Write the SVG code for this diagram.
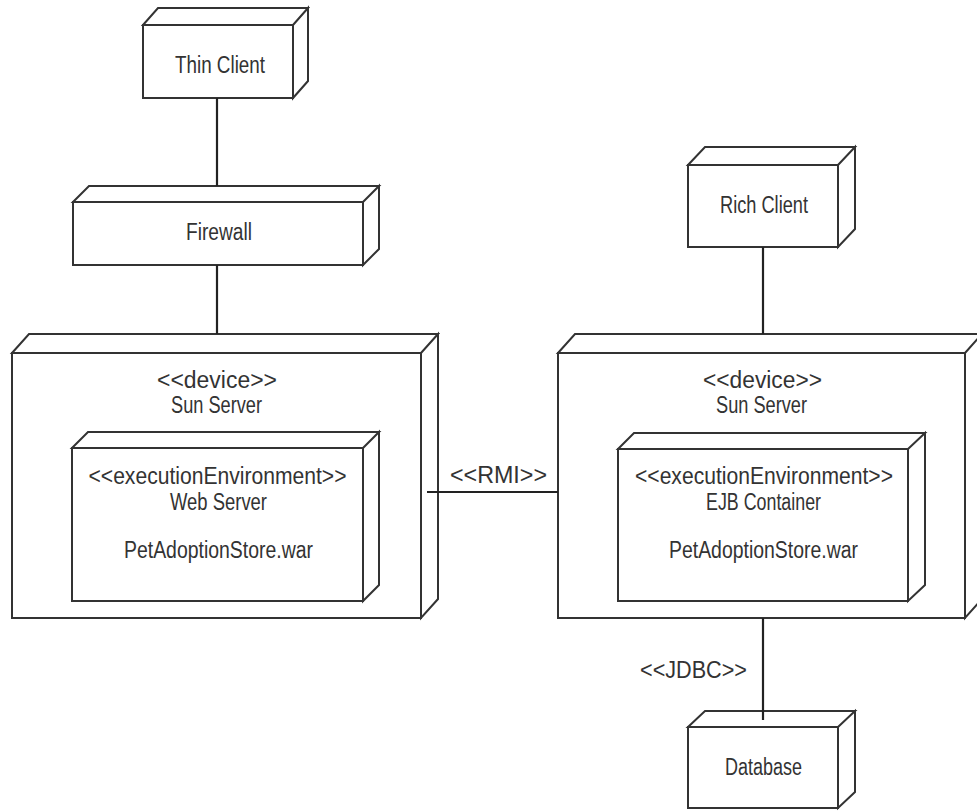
<svg xmlns="http://www.w3.org/2000/svg" width="977" height="812" viewBox="0 0 977 812">
<style>
.f{fill:#fff;stroke:#333;stroke-width:2;stroke-linejoin:miter}
.c{fill:none;stroke:#222;stroke-width:2.2}
text{font-family:"Liberation Sans",Arial,sans-serif;font-size:23px;fill:#333;text-anchor:middle}
</style>
<rect width="977" height="812" fill="#fff"/>
<g id="thin-client">
<path class="f" d="M143,25 L158,8 L308,8 L293,25 Z M293,25 L308,8 L308,81 L293,98 Z"/>
<rect class="f" x="143" y="25" width="150" height="73"/>
<text x="220" y="73" textLength="90" lengthAdjust="spacingAndGlyphs">Thin Client</text>
</g>
<g id="firewall">
<path class="f" d="M73,202 L89,186 L379,186 L363,202 Z M363,202 L379,186 L379,249 L363,265 Z"/>
<rect class="f" x="73" y="202" width="290" height="63"/>
<text x="219" y="240" textLength="66" lengthAdjust="spacingAndGlyphs">Firewall</text>
</g>
<g id="sun-server-left">
<path class="f" d="M12,353 L29,334 L438,334 L421,353 Z M421,353 L438,334 L438,599 L421,618 Z"/>
<rect class="f" x="12" y="353" width="409" height="265"/>
<text x="217" y="388" textLength="120" lengthAdjust="spacingAndGlyphs">&lt;&lt;device&gt;&gt;</text>
<text x="216.5" y="413" textLength="91" lengthAdjust="spacingAndGlyphs">Sun Server</text>
<g id="web-server">
<path class="f" d="M72,448 L88,432 L379,432 L363,448 Z M363,448 L379,432 L379,585 L363,601 Z"/>
<rect class="f" x="72" y="448" width="291" height="153"/>
<text x="217.5" y="484" textLength="258" lengthAdjust="spacingAndGlyphs">&lt;&lt;executionEnvironment&gt;&gt;</text>
<text x="218.5" y="510" textLength="97" lengthAdjust="spacingAndGlyphs">Web Server</text>
<text x="218.5" y="558" textLength="189" lengthAdjust="spacingAndGlyphs">PetAdoptionStore.war</text>
</g>
</g>
<g id="rich-client">
<path class="f" d="M688,165 L705,147 L855,147 L838,165 Z M838,165 L855,147 L855,229 L838,247 Z"/>
<rect class="f" x="688" y="165" width="150" height="82"/>
<text x="764" y="213" textLength="88" lengthAdjust="spacingAndGlyphs">Rich Client</text>
</g>
<g id="sun-server-right">
<path class="f" d="M558,353 L575,334 L982,334 L965,353 Z M965,353 L982,334 L982,599 L965,618 Z"/>
<rect class="f" x="558" y="353" width="407" height="265"/>
<text x="762.5" y="388" textLength="119" lengthAdjust="spacingAndGlyphs">&lt;&lt;device&gt;&gt;</text>
<text x="761.5" y="413" textLength="91" lengthAdjust="spacingAndGlyphs">Sun Server</text>
<g id="ejb-container">
<path class="f" d="M618,449 L634,433 L925,433 L908,449 Z M908,449 L925,433 L925,585 L908,601 Z"/>
<rect class="f" x="618" y="449" width="290" height="152"/>
<text x="764" y="484" textLength="258" lengthAdjust="spacingAndGlyphs">&lt;&lt;executionEnvironment&gt;&gt;</text>
<text x="763.5" y="510" textLength="115" lengthAdjust="spacingAndGlyphs">EJB Container</text>
<text x="763.5" y="558" textLength="189" lengthAdjust="spacingAndGlyphs">PetAdoptionStore.war</text>
</g>
</g>
<g id="database">
<path class="f" d="M688,727 L705,711 L855,711 L838,727 Z M838,727 L855,711 L855,792 L838,808 Z"/>
<rect class="f" x="688" y="727" width="150" height="81"/>
<text x="763.5" y="775" textLength="77" lengthAdjust="spacingAndGlyphs">Database</text>
</g>
<g id="connectors">
<line class="c" x1="217" y1="98" x2="217" y2="186"/>
<line class="c" x1="217" y1="265" x2="217" y2="334"/>
<line class="c" x1="763" y1="247" x2="763" y2="334"/>
<line class="c" x1="427" y1="492" x2="558" y2="492"/>
<text x="498.5" y="483" textLength="97" lengthAdjust="spacingAndGlyphs">&lt;&lt;RMI&gt;&gt;</text>
<line class="c" x1="763" y1="618" x2="763" y2="720"/>
<text x="693.5" y="678" textLength="107" lengthAdjust="spacingAndGlyphs">&lt;&lt;JDBC&gt;&gt;</text>
</g>
</svg>
